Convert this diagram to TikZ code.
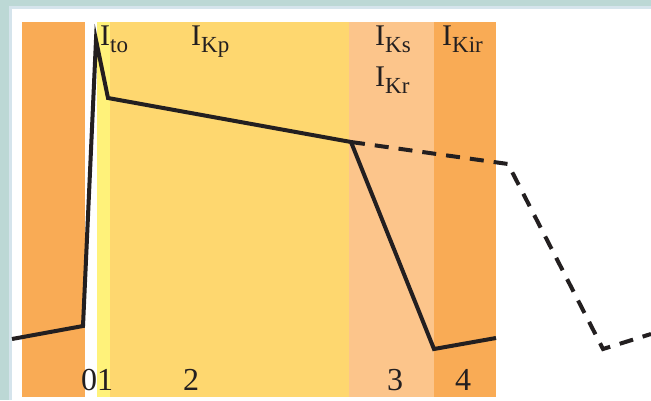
\documentclass[tikz,border=0pt]{standalone}
\usepackage{fontspec}
\setmainfont{Liberation Serif}
\definecolor{teal0}{HTML}{BCD8D5}
\definecolor{edge0}{HTML}{D5E4EC}
\definecolor{orng}{HTML}{F9AB55}
\definecolor{lorng}{HTML}{FCC58B}
\definecolor{ylw}{HTML}{FED76F}
\definecolor{lylw}{HTML}{FFF27A}
\definecolor{ink}{HTML}{231F20}
\newcommand{\curr}[1]{I\raisebox{-7pt}{\fontsize{23}{24}\selectfont #1}}
\tikzset{
  lbl/.style={anchor=base west, inner sep=0pt, text=ink, font=\fontsize{30}{31}\selectfont},
  num/.style={anchor=base west, inner sep=0pt, text=ink, font=\fontsize{32}{33}\selectfont},
  trace/.style={draw=ink, line width=4pt, line join=miter},
  dtrace/.style={draw=ink, line width=4pt, dash pattern=on 14pt off 10pt}
}
\begin{document}
\begin{tikzpicture}[x=1pt,y=-1pt]
\useasboundingbox (0,0) rectangle (651,400);
\fill[teal0] (0,0) rectangle (651,400);
\fill[edge0] (9,6) rectangle (651,400);
\fill[white] (12,9) rectangle (651,400);
% phase bands
\fill[orng] (22,22) rectangle (85,397);
\fill[lylw] (97,22) rectangle (110,397);
\fill[ylw] (110,22) rectangle (349,397);
\fill[lorng] (349,22) rectangle (434,397);
\fill[orng] (434,22) rectangle (496,397);
% trace
\coordinate (p0) at (12,339);
\coordinate (p1) at (83,326);
\coordinate (p2) at (96,40);
\coordinate (p3) at (108,98);
\coordinate (p4) at (351,142);
\coordinate (p5) at (434,349);
\coordinate (p6) at (496,338);
\coordinate (q1) at (508,164);
\coordinate (q2) at (603,349);
\coordinate (q3) at (651,334);
\draw[trace] (p0) -- (p1) -- (p2) -- (p3) -- (p4) -- (p5) -- (p6);
\draw[dtrace] (p4) -- (q1) -- (q2) -- (q3);
% labels
\node[lbl] (ito) at (100,45) {\curr{to}};
\node[lbl] (ikp) at (191,45) {\curr{Kp}};
\node[lbl] (iks) at (375,45) {\curr{Ks}};
\node[lbl] (ikr) at (375,86) {\curr{Kr}};
\node[lbl] (ikir) at (442,45) {\curr{Kir}};
\node[num] (n01) at (81,390) {01};
\node[num] (n2) at (183,390) {2};
\node[num] (n3) at (387,390) {3};
\node[num] (n4) at (455,390) {4};
\end{tikzpicture}
\end{document}
